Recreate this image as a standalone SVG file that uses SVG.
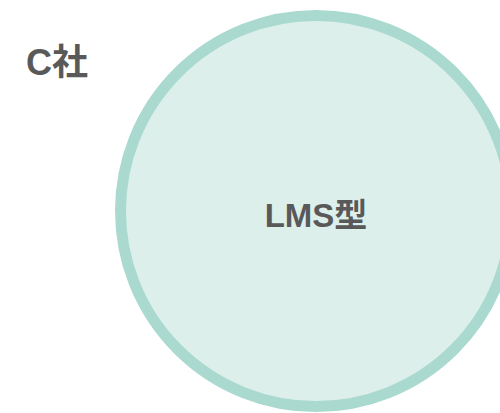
<svg xmlns="http://www.w3.org/2000/svg" width="500" height="413" viewBox="0 0 500 413">
<style>
.t{font-family:"Liberation Sans","Noto Sans CJK JP",sans-serif;font-weight:bold;fill:#595959;font-size:33px}
.big{font-size:36px}
</style>
<rect width="500" height="413" fill="#ffffff"/>
<g id="circle-lms">
<circle cx="316" cy="211" r="195.5" fill="#DDEFEB" stroke="#A9D9CF" stroke-width="11"/>
<text class="t" x="316" y="227" text-anchor="middle">LMS型</text>
</g>
<g id="label-c">
<text class="t big" x="26" y="75">C社</text>
</g>
<g id="connectors"/>
</svg>
